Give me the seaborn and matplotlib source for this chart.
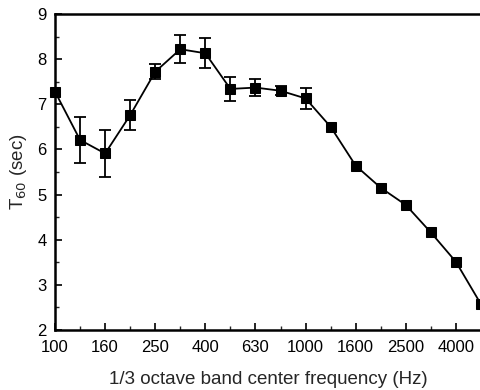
import numpy as np
import pandas as pd
import matplotlib
matplotlib.use("Agg")
import matplotlib.pyplot as plt
import seaborn as sns

bands = ["100", "125", "160", "200", "250", "315", "400", "500", "630", "800",
         "1000", "1250", "1600", "2000", "2500", "3150", "4000", "5000"]
t60 = [7.28, 6.21, 5.91, 6.76, 7.72, 8.22, 8.13, 7.34, 7.37, 7.30,
       7.13, 6.50, 5.64, 5.15, 4.77, 4.16, 3.51, 2.57]
err = [0.0, 0.50, 0.52, 0.33, 0.17, 0.31, 0.33, 0.27, 0.18, 0.10,
       0.23, 0.0, 0.0, 0.0, 0.0, 0.0, 0.0, 0.0]
tick_labels = ["100", "160", "250", "400", "630", "1000", "1600", "2500", "4000"]

sns.set_style("ticks")
plt.rcParams['font.family'] = ['Liberation Sans', 'DejaVu Sans']

df = pd.DataFrame({"idx": np.arange(len(bands)), "t60": t60, "err": err})
df_err = df[df["err"] > 0]

fig = plt.figure(figsize=(4.8, 3.9), dpi=100)
ax = fig.add_axes([55/480, 60/390, 426/480, 316/390])

ax.errorbar(df_err["idx"], df_err["t60"], yerr=df_err["err"], fmt="none", ecolor="black",
            elinewidth=1.3, capsize=4, capthick=1.3, zorder=2, clip_on=False)
sns.lineplot(data=df, x="idx", y="t60", ax=ax, color="black", linewidth=1.3,
             marker="s", markersize=7, markeredgecolor="black",
             markerfacecolor="black", zorder=3)
for ln in ax.lines:
    ln.set_clip_on(False)

ax.set_xlim(0, len(bands) - 1)
ax.set_ylim(2, 9)
ax.set_yticks(np.arange(2, 10, 1))
ax.set_yticks(np.arange(2.5, 9, 1), minor=True)
major_pos = [bands.index(t) for t in tick_labels]
ax.set_xticks(major_pos)
ax.set_xticklabels(tick_labels)
ax.set_xticks([i for i in range(len(bands)) if i not in major_pos], minor=True)

ax.tick_params(axis="both", which="major", direction="in", length=5, width=1.2,
               labelsize=12, colors="black")
ax.tick_params(axis="x", which="major", pad=7)
ax.tick_params(axis="y", which="major", pad=6)
ax.tick_params(axis="both", which="minor", direction="in", length=3, width=1)

for s in ax.spines.values():
    s.set_linewidth(1.8)
    s.set_color("black")

ax.set_xlabel("1/3 octave band center frequency (Hz)", fontsize=13.5, labelpad=12)
ax.set_ylabel("T$_{60}$ (sec)", fontsize=13.5, labelpad=6)

fig.savefig("out.png", dpi=100)
